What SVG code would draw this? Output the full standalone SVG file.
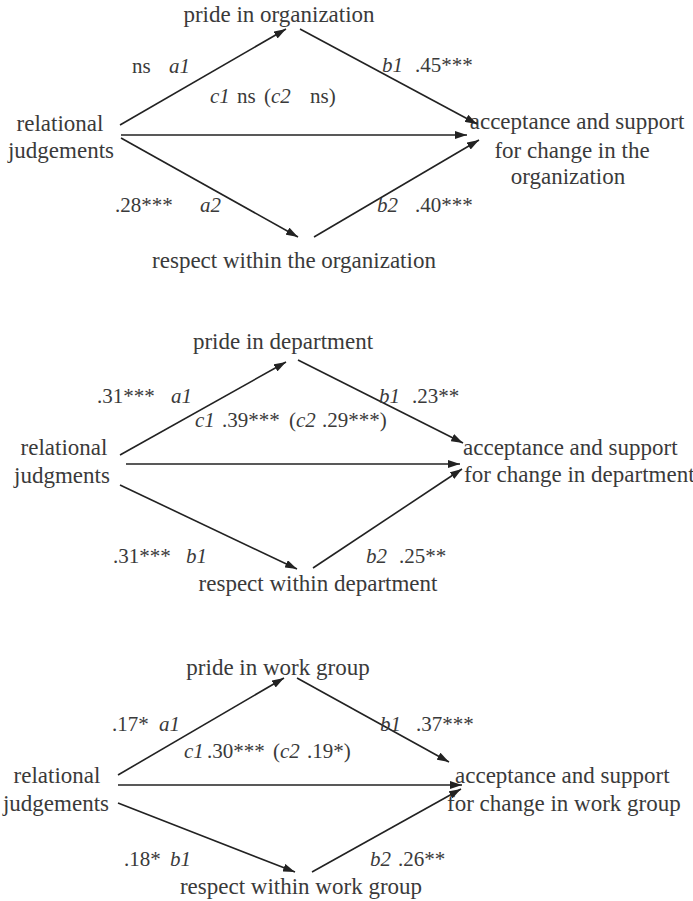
<svg xmlns="http://www.w3.org/2000/svg" width="693" height="901" viewBox="0 0 693 901">
<style>
.n{font-family:"Liberation Serif","Times New Roman",serif;font-size:23px;fill:#3a3a3a}
.m{text-anchor:middle}
.l{font-family:"Liberation Serif","Times New Roman",serif;font-size:21px;fill:#3a3a3a}
.i{font-style:italic}
.c line{stroke:#222;stroke-width:1.6;marker-end:url(#ah)}
</style>
<defs>
<marker id="ah" markerUnits="userSpaceOnUse" markerWidth="12" markerHeight="8" refX="12" refY="4" orient="auto">
<path d="M0,0 L12,4 L0,8 z" fill="#222"/>
</marker>
</defs>
<rect width="693" height="901" fill="#fff"/>

<!-- Panel 1 -->
<g id="p1-relational"><text class="n m" x="60" y="131">relational</text><text class="n m" x="61" y="158">judgements</text></g>
<g id="p1-pride"><text class="n m" x="279" y="22">pride in organization</text></g>
<g id="p1-respect"><text class="n m" x="294" y="268">respect within the organization</text></g>
<g id="p1-accept"><text class="n m" x="577" y="129">acceptance and support</text><text class="n m" x="572" y="158">for change in the</text><text class="n m" x="568" y="184">organization</text></g>
<g id="p1-connectors" class="c">
<line x1="120" y1="125" x2="286" y2="29"/>
<line x1="300" y1="29" x2="477" y2="124"/>
<line x1="121" y1="135" x2="467" y2="135"/>
<line x1="121" y1="138" x2="298" y2="237"/>
<line x1="314" y1="237" x2="479" y2="140"/>
</g>
<g id="p1-labels">
<text class="l" y="73"><tspan x="132">ns</tspan><tspan class="i" x="169">a1</tspan></text>
<text class="l" y="103"><tspan class="i" x="210">c1</tspan><tspan x="237">ns</tspan><tspan x="264">(</tspan><tspan class="i">c2</tspan><tspan x="310">ns)</tspan></text>
<text class="l" y="72"><tspan class="i" x="382">b1</tspan><tspan x="415">.45***</tspan></text>
<text class="l" y="212"><tspan x="115">.28***</tspan><tspan class="i" x="200">a2</tspan></text>
<text class="l" y="212"><tspan class="i" x="377">b2</tspan><tspan x="415">.40***</tspan></text>
</g>

<!-- Panel 2 -->
<g id="p2-relational"><text class="n m" x="64" y="455">relational</text><text class="n m" x="62" y="483">judgments</text></g>
<g id="p2-pride"><text class="n m" x="283" y="349">pride in department</text></g>
<g id="p2-respect"><text class="n m" x="318" y="591">respect within department</text></g>
<g id="p2-accept"><text class="n" x="463" y="455">acceptance and support</text><text class="n" x="464" y="482">for change in department</text></g>
<g id="p2-connectors" class="c">
<line x1="120" y1="455" x2="286" y2="362"/>
<line x1="298" y1="360" x2="463" y2="443"/>
<line x1="126" y1="464" x2="460" y2="464"/>
<line x1="120" y1="485" x2="297" y2="569"/>
<line x1="313" y1="568" x2="462" y2="469"/>
</g>
<g id="p2-labels">
<text class="l" y="403"><tspan x="97">.31***</tspan><tspan class="i" x="171">a1</tspan></text>
<text class="l" y="427"><tspan class="i" x="195">c1</tspan><tspan x="222">.39***</tspan><tspan x="289">(</tspan><tspan class="i">c2</tspan><tspan x="322">.29***)</tspan></text>
<text class="l" y="403"><tspan class="i" x="379">b1</tspan><tspan x="412">.23**</tspan></text>
<text class="l" y="563"><tspan x="113">.31***</tspan><tspan class="i" x="186">b1</tspan></text>
<text class="l" y="563"><tspan class="i" x="366">b2</tspan><tspan x="399">.25**</tspan></text>
</g>

<!-- Panel 3 -->
<g id="p3-relational"><text class="n m" x="57" y="783">relational</text><text class="n m" x="56" y="811">judgements</text></g>
<g id="p3-pride"><text class="n m" x="278" y="675">pride in work group</text></g>
<g id="p3-respect"><text class="n m" x="301" y="894">respect within work group</text></g>
<g id="p3-accept"><text class="n" x="455" y="783">acceptance and support</text><text class="n" x="447" y="811">for change in work group</text></g>
<g id="p3-connectors" class="c">
<line x1="118" y1="775" x2="284" y2="678"/>
<line x1="297" y1="678" x2="449" y2="762"/>
<line x1="118" y1="785" x2="462" y2="785"/>
<line x1="118" y1="803" x2="295" y2="872"/>
<line x1="312" y1="872" x2="461" y2="789"/>
</g>
<g id="p3-labels">
<text class="l" y="731"><tspan x="112">.17*</tspan><tspan class="i" x="159">a1</tspan></text>
<text class="l" y="758"><tspan class="i" x="184">c1</tspan><tspan x="207">.30***</tspan><tspan x="273">(</tspan><tspan class="i">c2</tspan><tspan x="307">.19*)</tspan></text>
<text class="l" y="731"><tspan class="i" x="380">b1</tspan><tspan x="416">.37***</tspan></text>
<text class="l" y="866"><tspan x="124">.18*</tspan><tspan class="i" x="170">b1</tspan></text>
<text class="l" y="866"><tspan class="i" x="370">b2</tspan><tspan x="398">.26**</tspan></text>
</g>
</svg>
